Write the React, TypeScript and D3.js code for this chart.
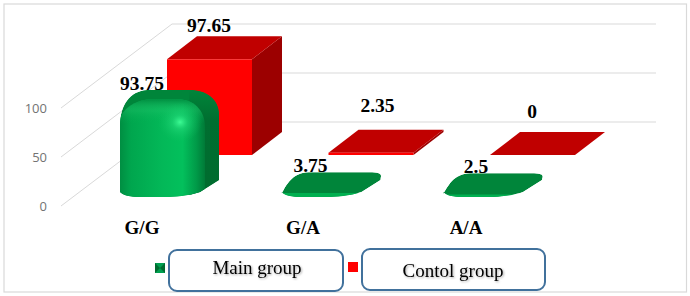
import React from "react";
import * as d3 from "d3";

const categories = ["G/G", "G/A", "A/A"];
const mainGroup = [93.75, 3.75, 2.5];
const controlGroup = [97.65, 2.35, 0];
const mainLabels = ["93.75", "3.75", "2.5"];
const controlLabels = ["97.65", "2.35", "0"];
const yTicks = [0, 50, 100];
const legendNames = ["Main group", "Contol group"];

// layout only
const mainLabelDx = [22, 29, 33];
const controlLabelDy = [-4, -18, -14];
const controlLabelDx = [42, 49, 42];
const catLabelX = [142, 303, 466];

const x = d3.scaleBand<string>().domain(categories).range([120, 604.5]).padding(0);
const hScale = d3.scaleLinear().domain([0, 100]).range([0, 98]);

const floorFront = 206;
const depthX = 111;
const depthY = 84;
const gridRight = 656;
const leftX = 61;
const redOffset = 47;
const redW = 85;
const redBase = 155;
const redDx = 30;
const redDy = 23;
const greenBase = 197;
const greenW = 99;
const serif = "'Liberation Serif', serif";

function silhouette(x0: number, yb: number, h: number) {
  const t = Math.min(1, h / 40);
  const top = yb - h - 23 + 8 * Math.min(1, h / 92) + (h < 10 ? 1.5 : 0);
  const X = x0 + greenW;
  const lt = top + 20 + 15 * t;
  const rt = top + 6 + 19 * t;
  const trx = X - (10 + 19 * t);
  const p = d3.path();
  p.moveTo(x0, yb - 5);
  p.lineTo(x0, lt);
  p.bezierCurveTo(x0 + 6 * (1 - t), lt - 8 - 12 * t, x0 + 10, top + 1, x0 + 27, top);
  p.lineTo(trx, top);
  p.bezierCurveTo(trx + 16, top, X, rt - 13 * t - 3, X, rt);
  p.lineTo(X, yb - 17);
  p.lineTo(X - 19, yb - 5);
  p.bezierCurveTo(X - 30, yb - 1, X - 45, yb, X - 55, yb);
  p.lineTo(x0 + 20, yb);
  p.bezierCurveTo(x0 + 10, yb, x0 + 2, yb - 2, x0, yb - 5);
  p.closePath();
  return { d: p.toString(), top, t };
}

function frontFace(x0: number, yb: number, h: number, t: number) {
  const ft = yb - h * 1.065;
  const R = x0 + greenW - 14;
  const p = d3.path();
  p.moveTo(x0 - 1, yb + 1);
  p.lineTo(x0 - 1, ft + 26 * t);
  p.bezierCurveTo(x0 - 1, ft + 10 * t, x0 + 16 * t, ft, x0 + 32 * t, ft);
  p.lineTo(R - 28 * t, ft);
  p.bezierCurveTo(R - 12 * t, ft, R, ft + 10 * t, R, ft + 28 * t);
  p.lineTo(R, yb + 1);
  p.closePath();
  return { d: p.toString(), ft };
}

function GreenBar({ i }: { i: number }) {
  const x0 = x(categories[i]) as number;
  const h = hScale(mainGroup[i]);
  const s = silhouette(x0, greenBase, h);
  const f = frontFace(x0, greenBase, h, s.t);
  const id = `gclip${i}`;
  return (
    <g>
      <clipPath id={id}><path d={s.d} /></clipPath>
      <g clipPath={`url(#${id})`}>
        <path d={s.d} fill="#00853a" />
        {h > 40 && (
          <rect x={x0 + greenW - 30} y={s.top} width={30} height={h + 30} fill="url(#gSide)" />
        )}
        <path d={f.d} fill={h > 40 ? "url(#gFront)" : "#00b050"} />
        {h > 40 && <path d={f.d} fill="url(#gTopShade)" />}
        {h > 40 && (
          <ellipse cx={x0 + 60} cy={f.ft + 23} rx={22} ry={20} fill="url(#gGlow)" />
        )}
      </g>
    </g>
  );
}

function RedBar({ i }: { i: number }) {
  const x0 = (x(categories[i]) as number) + redOffset;
  const h = hScale(controlGroup[i]);
  const yt = redBase - h;
  const x1 = x0 + redW;
  const top = `M${x0},${yt}L${x0 + redDx},${yt - redDy}L${x1 + redDx},${yt - redDy}L${x1},${yt}Z`;
  const side = `M${x1},${yt}L${x1 + redDx},${yt - redDy}L${x1 + redDx},${redBase - redDy}L${x1},${redBase}Z`;
  return (
    <g>
      {h > 0 && <path d={side} fill="#9c0000" />}
      <path d={top} fill="#c00000" />
      {h > 0 && <rect x={x0} y={yt} width={redW} height={h} fill="#ff0000" />}
    </g>
  );
}

export default function App() {
  return (
    <svg
      width={690}
      height={296}
      style={{ position: "fixed", left: 0, top: 0, background: "#fff" }}
    >
      <defs>
        <linearGradient id="gFront" x1="0" x2="1" y1="0" y2="0">
          <stop offset="0" stopColor="#008c41" />
          <stop offset="0.14" stopColor="#00a64e" />
          <stop offset="0.5" stopColor="#03b858" />
          <stop offset="0.74" stopColor="#03c05c" />
          <stop offset="0.9" stopColor="#009a48" />
          <stop offset="1" stopColor="#007a37" />
        </linearGradient>
        <linearGradient id="gSide" x1="0" x2="0" y1="0" y2="1">
          <stop offset="0" stopColor="#00853a" />
          <stop offset="0.25" stopColor="#006e30" />
          <stop offset="1" stopColor="#006b2e" />
        </linearGradient>
        <linearGradient id="gTopShade" x1="0" x2="0" y1="0" y2="1">
          <stop offset="0" stopColor="#008a3e" stopOpacity="0.9" />
          <stop offset="0.12" stopColor="#22c46a" stopOpacity="0.35" />
          <stop offset="0.25" stopColor="#00b050" stopOpacity="0" />
          <stop offset="1" stopColor="#00b050" stopOpacity="0" />
        </linearGradient>
        <radialGradient id="gGlow">
          <stop offset="0" stopColor="#3dfb94" />
          <stop offset="0.35" stopColor="#22d878" stopOpacity="0.6" />
          <stop offset="1" stopColor="#10c060" stopOpacity="0" />
        </radialGradient>
      </defs>

      <rect x={4} y={4} width={682.5} height={288} fill="#fff" stroke="#d9d9d9" strokeWidth={1.2} />

      {yTicks.map((t) => {
        const yF = floorFront - hScale(t);
        const yB = yF - depthY;
        return (
          <g key={t}>
            <polyline
              points={`${leftX},${yF} ${leftX + depthX},${yB} ${gridRight},${yB}`}
              fill="none"
              stroke="#d9d9d9"
              strokeWidth={1}
            />
            <text
              x={47}
              y={yF + 4.5}
              textAnchor="end"
              fontFamily="'Open Sans', sans-serif"
              fontSize={13}
              fill="#737373"
            >
              {t}
            </text>
          </g>
        );
      })}

      {categories.map((_, i) => <RedBar key={i} i={i} />)}
      {categories.map((_, i) => <GreenBar key={i} i={i} />)}

      {categories.map((c, i) => {
        const x0 = x(c) as number;
        const h = hScale(mainGroup[i]);
        const s = silhouette(x0, greenBase, h);
        const hr = hScale(controlGroup[i]);
        return (
          <g key={c} fontFamily={serif} fontWeight="bold" fill="#000" textAnchor="middle">
            <text x={x0 + mainLabelDx[i]} y={s.top} fontSize={19.5}>{mainLabels[i]}</text>
            <text
              x={x0 + redOffset + controlLabelDx[i]}
              y={redBase - hr - redDy + controlLabelDy[i]}
              fontSize={19.5}
            >
              {controlLabels[i]}
            </text>
            <text x={catLabelX[i]} y={234} fontSize={19}>{c}</text>
          </g>
        );
      })}

      <rect x={155} y={263} width={10} height={10} fill="#00a050" />
      <path d="M155,263L160,268L155,273ZM165,263L160,268L165,273Z" fill="#006b2f" />
      <rect x={348} y={262} width={10} height={10} fill="#ff0000" />

      <rect x={169} y={250} width={174} height={41} rx={8} fill="#fff" stroke="#41719c" strokeWidth={2} />
      <rect x={362} y={249} width={183} height={41} rx={8} fill="#fff" stroke="#41719c" strokeWidth={2} />
      {legendNames.map((n, i) => (
        <text
          key={n}
          x={i === 0 ? 257 : 453}
          y={i === 0 ? 274 : 277}
          textAnchor="middle"
          fontFamily={serif}
          fontSize={19}
          fill="#000"
          style={{ filter: "drop-shadow(1px 1px 1px rgba(0,0,0,0.35))" }}
        >
          {n}
        </text>
      ))}
    </svg>
  );
}
